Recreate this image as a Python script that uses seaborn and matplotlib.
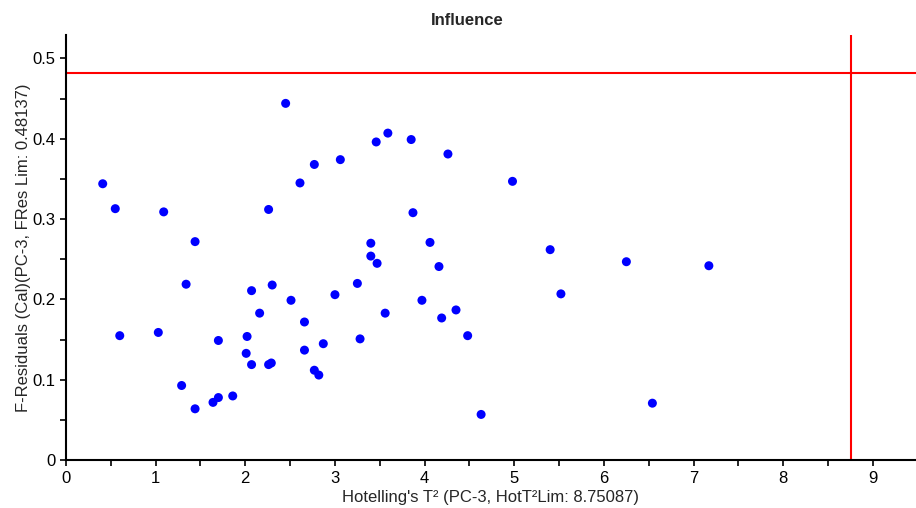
import numpy as np
import pandas as pd
import matplotlib
matplotlib.use("Agg")
import matplotlib.pyplot as plt
from matplotlib.ticker import MultipleLocator, FuncFormatter
import seaborn as sns

### Values
hotelling_t2 = [0.41, 0.55, 0.60, 1.03, 1.09, 1.29, 1.34, 1.44, 1.44, 1.64,
                1.70, 1.70, 1.86, 2.01, 2.02, 2.07, 2.07, 2.16, 2.26, 2.26,
                2.29, 2.30, 2.45, 2.51, 2.61, 2.66, 2.66, 2.77, 2.77, 2.82,
                2.87, 3.00, 3.06, 3.25, 3.28, 3.40, 3.40, 3.46, 3.47, 3.56,
                3.59, 3.85, 3.87, 3.97, 4.06, 4.16, 4.19, 4.26, 4.35, 4.48,
                4.63, 4.98, 5.40, 5.52, 6.25, 6.54, 7.17]
f_residuals = [0.344, 0.313, 0.155, 0.159, 0.309, 0.093, 0.219, 0.272, 0.064, 0.072,
               0.078, 0.149, 0.080, 0.133, 0.154, 0.211, 0.119, 0.183, 0.312, 0.119,
               0.121, 0.218, 0.444, 0.199, 0.345, 0.172, 0.137, 0.368, 0.112, 0.106,
               0.145, 0.206, 0.374, 0.220, 0.151, 0.270, 0.254, 0.396, 0.245, 0.183,
               0.407, 0.399, 0.308, 0.199, 0.271, 0.241, 0.177, 0.381, 0.187, 0.155,
               0.057, 0.347, 0.262, 0.207, 0.247, 0.071, 0.242]

fres_lim = 0.48137
hot_t2_lim = 8.75087

df = pd.DataFrame({"t2": hotelling_t2, "fres": f_residuals})

sns.set_style("ticks")
plt.rcParams["font.family"] = ["Liberation Sans", "DejaVu Sans"]

fig = plt.figure(figsize=(9.16, 5.08), dpi=100)
ax = fig.add_axes([0.072, 0.094, 0.928, 0.837])

sns.scatterplot(data=df, x="t2", y="fres", ax=ax, color="#0000FF",
                s=42, edgecolor="none", zorder=3)

# limit lines
ax.axhline(fres_lim, color="#FF0000", linewidth=1.5, zorder=2)
ax.axvline(hot_t2_lim, color="#FF0000", linewidth=1.5, zorder=2)

ax.set_xlim(0, 9.48)
ax.set_ylim(0, 0.529)
ax.xaxis.set_major_locator(MultipleLocator(1))
ax.xaxis.set_minor_locator(MultipleLocator(0.5))
ax.yaxis.set_major_locator(MultipleLocator(0.1))
ax.yaxis.set_minor_locator(MultipleLocator(0.05))
ax.yaxis.set_major_formatter(FuncFormatter(lambda v, p: "0" if abs(v) < 1e-9 else f"{v:.1f}"))
ax.tick_params(which="both", direction="out", length=4, width=1.2,
               colors="black", labelsize=12)

for side in ["top", "right"]:
    ax.spines[side].set_visible(False)
for side in ["left", "bottom"]:
    ax.spines[side].set_linewidth(1.5)
    ax.spines[side].set_color("black")

ax.set_xlabel("Hotelling's T\u00b2 (PC-3, HotT\u00b2Lim: 8.75087)", fontsize=12, labelpad=3)
ax.set_ylabel("F-Residuals (Cal)(PC-3, FRes Lim: 0.48137)", fontsize=12, labelpad=1)
fig.text(0.51, 0.96, "Influence", fontsize=12, fontweight="bold",
         ha="center", va="center")

fig.savefig("out.png", dpi=100)
